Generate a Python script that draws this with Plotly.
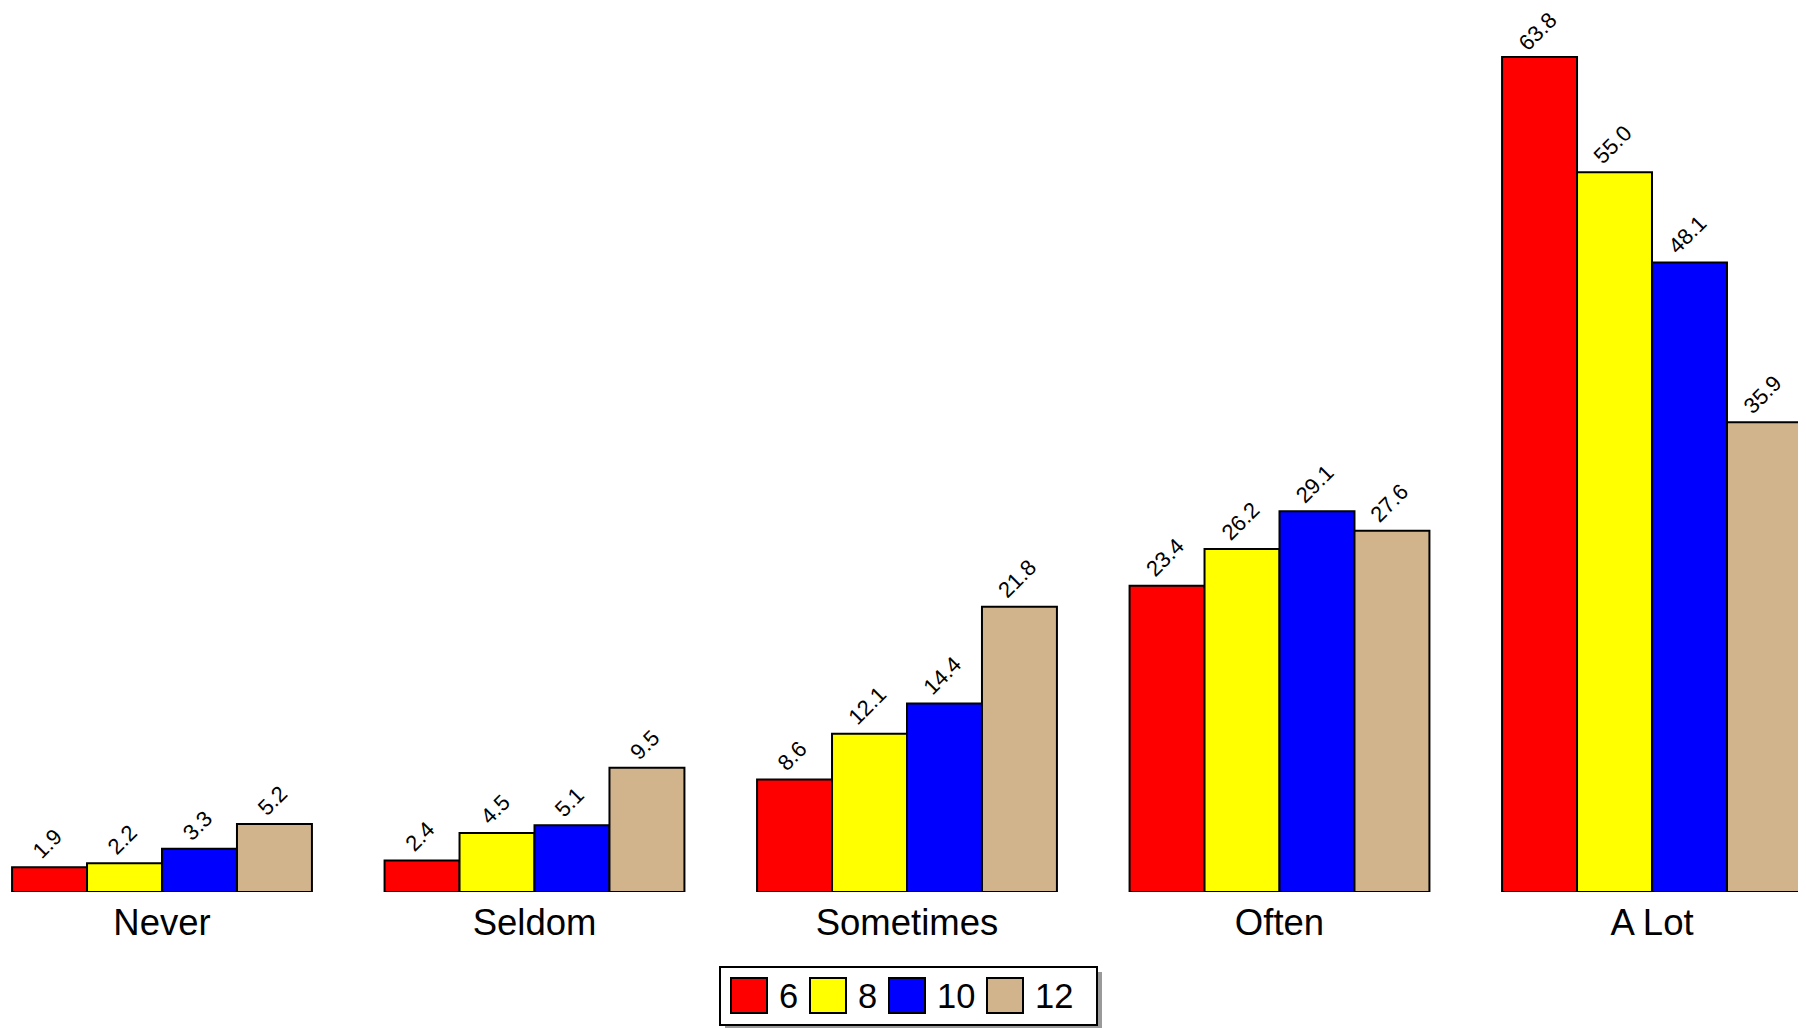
import plotly.graph_objects as go

categories = ["Never", "Seldom", "Sometimes", "Often", "A Lot"]
series_names = ["6", "8", "10", "12"]
values_6 = [1.9, 2.4, 8.6, 23.4, 63.8]
values_8 = [2.2, 4.5, 12.1, 26.2, 55.0]
values_10 = [3.3, 5.1, 14.4, 29.1, 48.1]
values_12 = [5.2, 9.5, 21.8, 27.6, 35.9]
series_values = [values_6, values_8, values_10, values_12]
colors = ["#FF0000", "#FFFF00", "#0000FF", "#D2B48C"]

W, H = 1806, 1028
OFF = 8  # page body offset
FONT = "Liberation Sans, Arial, sans-serif"
BARGAP = 0.195
PX_PER_UNIT = 13.088

plot_h = 892 - OFF
ymax = plot_h / PX_PER_UNIT

fig = go.Figure()
for name, vals, col in zip(series_names, series_values, colors):
    fig.add_trace(go.Bar(
        x=categories, y=vals, name=name,
        marker=dict(color=col, line=dict(color="black", width=2)),
        cliponaxis=False, showlegend=False,
    ))

annotations = []
# value labels, rotated, above each bar (kept inside the top edge)
nser = len(series_names)
bw = (1 - BARGAP) / nser
for k, vals in enumerate(series_values):
    for i, v in enumerate(vals):
        headroom = (ymax - v) * PX_PER_UNIT
        annotations.append(dict(
            xref="x", yref="y", x=i + (k - (nser - 1) / 2) * bw, y=v,
            text=f"{v:.1f}", textangle=-45, showarrow=False,
            xanchor="center", yanchor="bottom", yshift=min(1, headroom - 50), xshift=-2,
            font=dict(family=FONT, size=22, color="black"),
        ))

# manual legend (paper coords derived from page pixel layout)
def px(x):
    return (x - OFF) / W
def py(y):
    return (plot_h - (y - OFF)) / plot_h

shapes = []
box_l, box_r, box_t, box_b = 720, 1097, 967, 1025
shapes.append(dict(type="rect", xref="paper", yref="paper",
                   x0=px(box_l + 5), x1=px(box_r + 5), y0=py(box_b + 5), y1=py(box_t + 5),
                   fillcolor="#9a9a9a", line=dict(width=0), layer="above"))
shapes.append(dict(type="rect", xref="paper", yref="paper",
                   x0=px(box_l), x1=px(box_r), y0=py(box_b), y1=py(box_t),
                   fillcolor="white", line=dict(color="black", width=2), layer="above"))
cx = 731
char_w = 19
for name, col in zip(series_names, colors):
    shapes.append(dict(type="rect", xref="paper", yref="paper",
                       x0=px(cx), x1=px(cx + 36), y0=py(1013), y1=py(978),
                       fillcolor=col, line=dict(color="black", width=2), layer="above"))
    annotations.append(dict(xref="paper", yref="paper", x=px(cx + 46), y=py(996),
                            xanchor="left", yanchor="middle", text=name, showarrow=False,
                            font=dict(family=FONT, size=34.5, color="black")))
    cx += 36 + 12 + len(name) * char_w + 12

fig.update_layout(
    width=W, height=H,
    margin=dict(l=0, r=0, t=0, b=H - plot_h),
    plot_bgcolor="white", paper_bgcolor="white",
    barmode="group", bargap=BARGAP, bargroupgap=0,
    shapes=shapes, annotations=annotations,
    font=dict(family=FONT, color="black"),
    xaxis=dict(range=[-(162 - OFF) / 372.5, (W - 162 + OFF) / 372.5],
               showgrid=False, zeroline=False, showline=False,
               ticks="", tickfont=dict(family=FONT, size=36.5, color="black"),
               ticklabelstandoff=5),
    yaxis=dict(range=[0, ymax], showgrid=False, zeroline=False, showline=False,
               showticklabels=False, ticks=""),
)

fig.write_html("out.html")
